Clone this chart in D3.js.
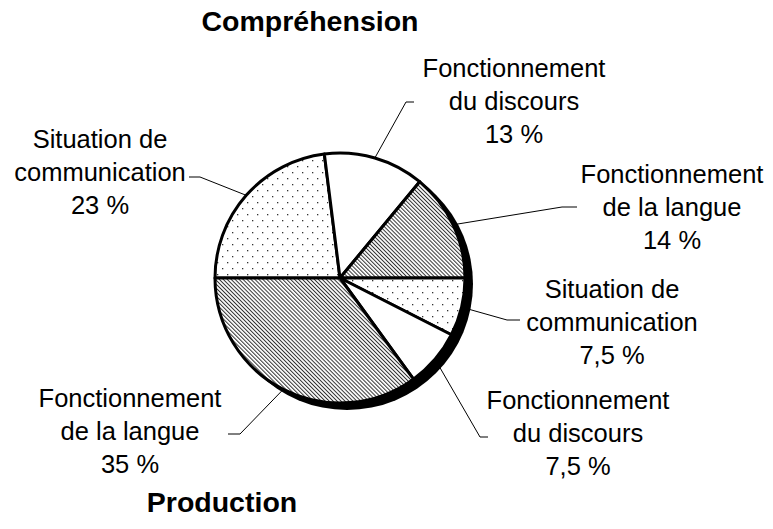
<!DOCTYPE html>
<html>
<head>
<meta charset="utf-8">
<script src="https://cdn.jsdelivr.net/npm/d3@7"></script>
<style>
  body { margin: 0; background: #fff; }
  svg { display: block; font-family: "Liberation Sans", Arial, sans-serif; }
</style>
</head>
<body>
<div id="chart"></div>
<script>
// Chart data
var groupTitles = ["Compréhension", "Production"];
var sliceNames = [
  ["Situation de", "communication"],
  ["Fonctionnement", "du discours"],
  ["Fonctionnement", "de la langue"],
  ["Situation de", "communication"],
  ["Fonctionnement", "du discours"],
  ["Fonctionnement", "de la langue"]
];
var sliceValues = [23, 13, 14, 7.5, 7.5, 35];
var valueLabels = ["23 %", "13 %", "14 %", "7,5 %", "7,5 %", "35 %"];
var sliceFills = ["dots", "white", "hatch", "dots", "white", "hatch"];

// Label placement: text centre, first baseline, elbow of the leader, end of leader
var labelLayout = [
  { tx: 100, ty: 148, ex: 200, ey: 177, hx: 189 },
  { tx: 514, ty: 77,  ex: 406, ey: 102, hx: 414 },
  { tx: 672, ty: 183, ex: 562, ey: 207, hx: 577 },
  { tx: 612, ty: 298, ex: 507, ey: 320, hx: 520 },
  { tx: 578, ty: 409, ex: 480, ey: 437, hx: 488 },
  { tx: 130, ty: 407, ex: 240, ey: 434, hx: 228 }
];

var svgWidth = 773;
var svgHeight = 529;
var cx = 340, cy = 278, radius = 125;
var lineHeight = 33;

var svg = d3.select("#chart")
  .append("svg")
  .attr("width", svgWidth)
  .attr("height", svgHeight);

// Fill patterns
var defs = svg.append("defs");

var dots = defs.append("pattern")
  .attr("id", "dots")
  .attr("patternUnits", "userSpaceOnUse")
  .attr("width", 10)
  .attr("height", 12);
dots.append("rect").attr("width", 10).attr("height", 12).attr("fill", "#fff");
dots.append("rect").attr("x", 2).attr("y", 2).attr("width", 1.3).attr("height", 1.3).attr("fill", "#333");
dots.append("rect").attr("x", 7).attr("y", 8).attr("width", 1.3).attr("height", 1.3).attr("fill", "#333");

var hatch = defs.append("pattern")
  .attr("id", "hatch")
  .attr("patternUnits", "userSpaceOnUse")
  .attr("width", 2.8)
  .attr("height", 10)
  .attr("patternTransform", "rotate(-45)");
hatch.append("rect").attr("width", 2.8).attr("height", 10).attr("fill", "#fff");
hatch.append("rect").attr("width", 1).attr("height", 10).attr("fill", "#333");

var pie = d3.pie()
  .sort(null)
  .value(d => d)
  .startAngle(-Math.PI / 2)
  .endAngle(3 * Math.PI / 2);

var arcs = pie(sliceValues);

var arc = d3.arc().innerRadius(0).outerRadius(radius);
var edgeArc = d3.arc().innerRadius(radius).outerRadius(radius);

var chartGroup = svg.append("g")
  .attr("transform", `translate(${cx}, ${cy})`);

// shadow behind the pie
chartGroup.append("circle")
  .attr("cx", 7)
  .attr("cy", 6)
  .attr("r", radius + 1)
  .attr("fill", "#000");

chartGroup.selectAll("path.slice")
  .data(arcs)
  .enter()
  .append("path")
  .attr("class", "slice")
  .attr("d", arc)
  .attr("fill", (d, i) => sliceFills[i] == "white" ? "#fff" : `url(#${sliceFills[i]})`)
  .attr("stroke", "#000")
  .attr("stroke-width", 3)
  .attr("stroke-linejoin", "round");

// leader lines
chartGroup.selectAll("polyline.leader")
  .data(arcs)
  .enter()
  .append("polyline")
  .attr("class", "leader")
  .attr("points", function(d, i) {
    var p = edgeArc.centroid(d);
    var l = labelLayout[i];
    return [p, [l.ex - cx, l.ey - cy], [l.hx - cx, l.ey - cy]].map(q => q.join(",")).join(" ");
  })
  .attr("fill", "none")
  .attr("stroke", "#000")
  .attr("stroke-width", 1);

// slice labels
var labels = svg.selectAll("text.label")
  .data(arcs)
  .enter()
  .append("text")
  .attr("class", "label")
  .attr("text-anchor", "middle")
  .attr("font-size", "25.5px")
  .attr("fill", "#000");

labels.each(function(d, i) {
  var t = d3.select(this);
  var lines = sliceNames[i].concat([valueLabels[i]]);
  lines.forEach(function(s, k) {
    t.append("tspan")
      .attr("x", labelLayout[i].tx)
      .attr("y", labelLayout[i].ty + k * lineHeight)
      .text(s);
  });
});

// group titles
svg.append("text")
  .attr("x", 310)
  .attr("y", 31)
  .attr("text-anchor", "middle")
  .attr("font-size", "28.5px")
  .attr("font-weight", "bold")
  .text(groupTitles[0]);

svg.append("text")
  .attr("x", 222)
  .attr("y", 512)
  .attr("text-anchor", "middle")
  .attr("font-size", "28.5px")
  .attr("font-weight", "bold")
  .text(groupTitles[1]);
</script>
</body>
</html>
